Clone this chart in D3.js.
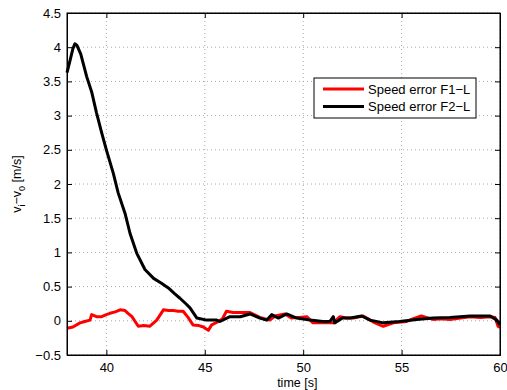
<!DOCTYPE html>
<html lang="en">
  <head>
    <meta charset="UTF-8" />
    <title>Speed error</title>
    <script src="https://d3js.org/d3.v7.min.js"></script>
    <style>
      body {
        margin: 0;
        background: #fff;
        font-family: "Liberation Sans", Arial, sans-serif;
      }
      svg {
        display: block;
      }
    </style>
  </head>
  <body>
    <svg width="507" height="390"></svg>
    <script>
      // data (time [s], speed error [m/s])
      const timeF1 = [38, 38.3, 38.66, 38.9, 39.17, 39.25, 39.5, 39.76, 40.0, 40.18, 40.45, 40.7, 40.95, 41.1, 41.3, 41.62, 41.9, 42.2, 42.56, 42.9, 43.15, 43.4, 43.65, 43.9, 44.15, 44.4, 44.7, 44.93, 45.18, 45.35, 45.7, 45.9, 46.1, 46.45, 46.8, 47.3, 47.8, 48.3, 48.57, 49.07, 49.4, 49.8, 50.18, 50.5, 51.0, 51.53, 51.87, 52.2, 52.55, 53.05, 53.65, 54.07, 54.58, 55.26, 55.6, 56.0, 56.6, 57.0, 57.46, 58.0, 58.48, 59.0, 59.5, 59.75, 59.9, 60];
      const errF1 = [-0.11, -0.09, -0.03, -0.01, 0.01, 0.09, 0.06, 0.06, 0.09, 0.11, 0.13, 0.16, 0.15, 0.11, 0.06, -0.08, -0.07, -0.08, 0.01, 0.16, 0.15, 0.15, 0.14, 0.14, 0.05, -0.06, -0.07, -0.09, -0.14, -0.06, -0.01, 0.03, 0.14, 0.12, 0.12, 0.12, 0.05, 0.01, 0.07, 0.1, 0.04, 0.05, 0.06, -0.03, -0.03, -0.03, 0.06, 0.04, 0.04, 0.07, -0.03, -0.08, -0.03, -0.01, 0.03, 0.07, 0.02, 0.03, 0.02, 0.04, 0.06, 0.05, 0.06, 0.05, -0.08, -0.1];

      const timeF2 = [38, 38.15, 38.3, 38.4, 38.5, 38.7, 39.0, 39.25, 39.5, 39.76, 40.0, 40.35, 40.6, 40.95, 41.2, 41.54, 41.96, 42.4, 42.8, 43.15, 43.45, 43.74, 44.0, 44.25, 44.6, 45.1, 45.6, 45.77, 46.28, 46.8, 47.3, 47.8, 48.15, 48.4, 48.74, 49.16, 49.67, 50.35, 51.0, 51.36, 51.53, 51.6, 52.0, 52.4, 52.97, 53.4, 54.07, 54.9, 55.77, 56.6, 57.46, 58.48, 59.5, 59.84, 60];
      const errF2 = [3.63, 3.8, 3.98, 4.05, 4.03, 3.9, 3.57, 3.35, 3.04, 2.75, 2.5, 2.16, 1.87, 1.57, 1.28, 0.99, 0.75, 0.62, 0.55, 0.48, 0.4, 0.33, 0.26, 0.19, 0.04, 0.01, 0.01, -0.01, 0.06, 0.06, 0.1, 0.04, 0.01, 0.09, 0.04, 0.1, 0.04, 0.01, -0.01, -0.01, 0.06, -0.03, 0.04, 0.04, 0.07, 0.01, -0.03, -0.01, 0.02, 0.04, 0.05, 0.07, 0.07, 0.01, -0.06];

      const xTicks = [40, 45, 50, 55, 60];
      const yTicks = [-0.5, 0, 0.5, 1, 1.5, 2, 2.5, 3, 3.5, 4, 4.5];
      const seriesNames = ["Speed error F1\u2212L", "Speed error F2\u2212L"];
      const seriesColors = ["#ff0000", "#000000"];

      const svg = d3.select("svg");
      const margin = { top: 13, right: 7, bottom: 35, left: 67 };
      const width = 507 - margin.left - margin.right;
      const height = 390 - margin.top - margin.bottom;

      const g = svg
        .append("g")
        .attr("transform", `translate(${margin.left},${margin.top})`);

      const x = d3.scaleLinear().domain([38, 60]).range([0, width]);
      const y = d3.scaleLinear().domain([-0.5, 4.5]).range([height, 0]);

      // dotted grid
      g.append("g")
        .selectAll("line")
        .data(xTicks)
        .join("line")
        .attr("x1", (d) => x(d))
        .attr("x2", (d) => x(d))
        .attr("y1", 0)
        .attr("y2", height)
        .attr("stroke", "#aaa")
        .attr("stroke-width", 1)
        .attr("stroke-dasharray", "1,3");
      g.append("g")
        .selectAll("line")
        .data(yTicks)
        .join("line")
        .attr("x1", 0)
        .attr("x2", width)
        .attr("y1", (d) => y(d))
        .attr("y2", (d) => y(d))
        .attr("stroke", "#aaa")
        .attr("stroke-width", 1)
        .attr("stroke-dasharray", "1,3");

      // lines
      const line = d3
        .line()
        .x((d) => x(d[0]))
        .y((d) => y(d[1]));
      const f1 = timeF1.map((t, i) => [t, errF1[i]]);
      const f2 = timeF2.map((t, i) => [t, errF2[i]]);

      g.append("path")
        .datum(f1)
        .attr("fill", "none")
        .attr("stroke", seriesColors[0])
        .attr("stroke-width", 3)
        .attr("stroke-linejoin", "round")
        .attr("d", line);
      g.append("path")
        .datum(f2)
        .attr("fill", "none")
        .attr("stroke", seriesColors[1])
        .attr("stroke-width", 3)
        .attr("stroke-linejoin", "round")
        .attr("d", line);

      // axes (ticks inside, on all four sides)
      const fmt = (d) => String(d).replace("-", "\u2212");
      g.append("g")
        .attr("transform", `translate(0,${height})`)
        .call(d3.axisBottom(x).tickValues(xTicks).tickSize(-5).tickPadding(8).tickFormat(fmt));
      g.append("g")
        .call(d3.axisLeft(y).tickValues(yTicks).tickSize(-5).tickPadding(6).tickFormat(fmt));
      g.append("g")
        .call(d3.axisTop(x).tickValues(xTicks).tickSize(-5).tickFormat(""));
      g.append("g")
        .attr("transform", `translate(${width},0)`)
        .call(d3.axisRight(y).tickValues(yTicks).tickSize(-5).tickFormat(""));

      g.selectAll(".domain").attr("stroke", "#000");
      g.selectAll(".tick line").attr("stroke", "#000");
      g.selectAll(".tick text")
        .attr("fill", "#000")
        .style("font-size", "13px")
        .style("font-family", "'Liberation Sans', Arial, sans-serif");

      // box
      g.append("rect")
        .attr("width", width)
        .attr("height", height)
        .attr("fill", "none")
        .attr("stroke", "#000");

      // axis labels
      svg.append("text")
        .attr("x", margin.left + x(49.7))
        .attr("y", 387)
        .attr("text-anchor", "middle")
        .style("font-size", "12.5px")
        .text("time [s]");

      const yl = svg
        .append("text")
        .attr("transform", `translate(21,${margin.top + y(2)}) rotate(-90)`)
        .attr("text-anchor", "middle")
        .style("font-size", "12.5px");
      yl.append("tspan").text("v");
      yl.append("tspan").attr("dy", 4).style("font-size", "9px").text("i");
      yl.append("tspan").attr("dy", -4).text("\u2212v");
      yl.append("tspan").attr("dy", 4).style("font-size", "9px").text("0");
      yl.append("tspan").attr("dy", -4).text(" [m/s]");

      // legend
      const lg = svg.append("g").attr("transform", "translate(314,78)");
      lg.append("rect")
        .attr("width", 162)
        .attr("height", 40)
        .attr("fill", "#fff")
        .attr("stroke", "#000");
      seriesNames.forEach((name, i) => {
        const row = lg.append("g").attr("transform", `translate(0,${11 + i * 17.5})`);
        row.append("line")
          .attr("x1", 9)
          .attr("x2", 50)
          .attr("stroke", seriesColors[i])
          .attr("stroke-width", 3);
        row.append("text")
          .attr("x", 54)
          .attr("dy", "0.35em")
          .style("font-size", "13px")
          .text(name);
      });
    </script>
  </body>
</html>
